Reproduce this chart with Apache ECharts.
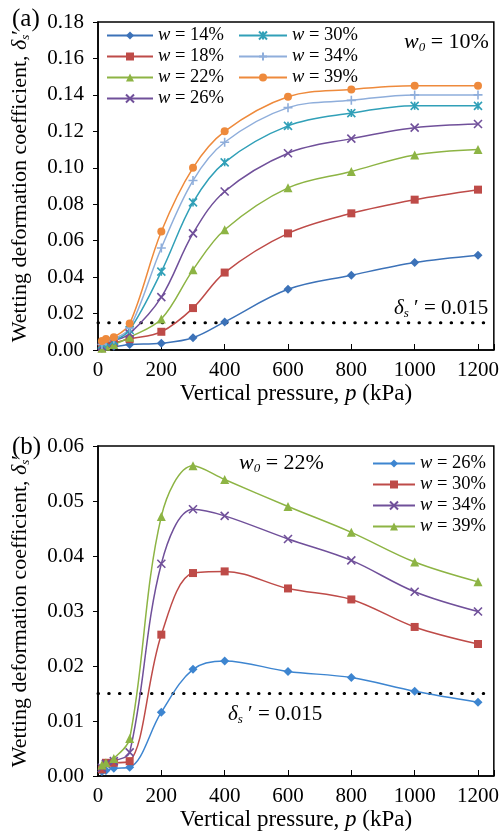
<!DOCTYPE html>
<html>
<head>
<meta charset="utf-8">
<script src="https://cdn.jsdelivr.net/npm/echarts@6/dist/echarts.min.js"></script>
<style>
html, body {margin:0; padding:0; background:#fff;}
#chart {width:502px; height:839px;}
</style>
</head>
<body>
<div id="chart"></div>
<script>
// vertical pressure p (kPa), same for both panels
var pressures = [12.5, 25, 50, 100, 200, 300, 400, 600, 800, 1000, 1200];
var threshold = 0.015;

// (a) w0 = 10%
var a14 = [0.001, 0.002, 0.002, 0.003, 0.0037, 0.0067, 0.0154, 0.0333, 0.041, 0.048, 0.052];
var a18 = [0.001, 0.003, 0.004, 0.006, 0.010, 0.023, 0.0425, 0.064, 0.075, 0.0825, 0.088];
var a22 = [0.001, 0.002, 0.003, 0.007, 0.017, 0.044, 0.066, 0.089, 0.098, 0.107, 0.110];
var a26 = [0.002, 0.004, 0.005, 0.009, 0.029, 0.064, 0.087, 0.108, 0.116, 0.122, 0.124];
var a30 = [0.003, 0.004, 0.005, 0.011, 0.043, 0.081, 0.103, 0.123, 0.130, 0.134, 0.134];
var a34 = [0.003, 0.005, 0.006, 0.012, 0.056, 0.093, 0.114, 0.133, 0.137, 0.140, 0.140];
var a39 = [0.005, 0.006, 0.007, 0.0145, 0.065, 0.100, 0.120, 0.139, 0.143, 0.145, 0.145];

// (b) w0 = 22%
var b26 = [0.0008, 0.0010, 0.0014, 0.0016, 0.0116, 0.0194, 0.0209, 0.0190, 0.0179, 0.0154, 0.0134];
var b30 = [0.0012, 0.0024, 0.0024, 0.0027, 0.0257, 0.0369, 0.0372, 0.0341, 0.0321, 0.0271, 0.0240];
var b34 = [0.0015, 0.0022, 0.0027, 0.0043, 0.0386, 0.0485, 0.0473, 0.0431, 0.0392, 0.0335, 0.0299];
var b39 = [0.0020, 0.0024, 0.0032, 0.0068, 0.0472, 0.0564, 0.0539, 0.0490, 0.0443, 0.0389, 0.0353];

var xTicks = [0, 200, 400, 600, 800, 1000, 1200];

var FONT = 'Liberation Serif';
var C = {
    blue: '#3C72B8', red: '#BE4B48', green: '#8DB444', purple: '#70509A',
    teal: '#31A0B8', light: '#8FAEDB', orange: '#EE8A3C', blue2: '#3D85D0'
};
var X_SYM = 'path://M0,0L10,10M10,0L0,10';
var PLUS_SYM = 'path://M5,0L5,10M0,5L10,5';
var STAR_SYM = 'path://M0,0L10,10M10,0L0,10M5,0L5,10';

function pts(vals) {
    return pressures.map(function (p, i) { return [p, vals[i]]; });
}

function mkSeries(name, vals, color, symbol, size, idx, stroke) {
    var s = {
        name: name,
        type: 'line',
        xAxisIndex: idx,
        yAxisIndex: idx,
        data: pts(vals),
        smooth: 0.35,
        symbol: symbol,
        symbolSize: size,
        showAllSymbol: true,
        lineStyle: {color: color, width: 1.5},
        itemStyle: {color: color},
        z: 3
    };
    if (stroke) {
        s.itemStyle = {color: color, borderColor: color, borderWidth: 1.6};
    }
    return s;
}

function dotted(idx) {
    return {
        type: 'line',
        xAxisIndex: idx,
        yAxisIndex: idx,
        data: [[0, threshold], [1250, threshold]],
        symbol: 'none',
        silent: true,
        lineStyle: {color: '#000', width: 3, type: [0.5, 10.2], cap: 'round'},
        z: 2
    };
}

function richFor(size) {
    return {
        i: {fontFamily: FONT, fontStyle: 'italic', fontSize: size, color: '#000'},
        n: {fontFamily: FONT, fontSize: size, color: '#000'}
    };
}
function legendFmt(name) {
    var pct = name.split('|')[1];
    return '{i|w}{n| = ' + pct + '%}';
}

function xAxis(idx) {
    return {
        type: 'value', gridIndex: idx, min: 0, max: 1250, interval: 200,
        name: 'Vertical pressure, {i|p} (kPa)',
        nameLocation: 'middle', nameGap: 32,
        nameTextStyle: {fontFamily: FONT, fontSize: 23, color: '#000',
            rich: {i: {fontFamily: FONT, fontSize: 23, fontStyle: 'italic', color: '#000'}}},
        axisLine: {lineStyle: {color: '#000', width: 1.5}},
        axisTick: {inside: true, length: 6, lineStyle: {color: '#000'}},
        axisLabel: {fontFamily: FONT, fontSize: 21, color: '#000', margin: 10,
            formatter: function (v) { return xTicks.indexOf(v) >= 0 ? v : ''; }},
        splitLine: {show: false}
    };
}
function yAxis(idx, max, step) {
    return {
        type: 'value', gridIndex: idx, min: 0, max: max, interval: step,
        name: 'Wetting deformation coefficient, {d|δ}{s|s}{p|′}',
        nameLocation: 'middle', nameGap: 66,
        nameTextStyle: {fontFamily: FONT, fontSize: 22, color: '#000',
            rich: {
                d: {fontFamily: FONT, fontSize: 22, fontStyle: 'italic', color: '#000'},
                s: {fontFamily: FONT, fontSize: 13, fontStyle: 'italic', color: '#000', padding: [11, 0, 0, 0]},
                p: {fontFamily: FONT, fontSize: 22, color: '#000'}
            }},
        axisLine: {lineStyle: {color: '#000', width: 1.5}},
        axisTick: {length: 5, lineStyle: {color: '#000'}},
        axisLabel: {fontFamily: FONT, fontSize: 21, color: '#000', margin: 14,
            formatter: function (v) { return v.toFixed(2); }},
        splitLine: {show: false}
    };
}

function note(left, top, str, size) {
    return {
        type: 'text', left: left, top: top,
        style: {
            text: str, fill: '#000', font: size + 'px "' + FONT + '"',
            rich: {
                i: {fontFamily: FONT, fontStyle: 'italic', fontSize: size, fill: '#000'},
                n: {fontFamily: FONT, fontSize: size, fill: '#000'},
                sub: {fontFamily: FONT, fontStyle: 'italic', fontSize: Math.round(size * 0.6), fill: '#000', padding: [11, 0, 0, 0]}
            }
        }
    };
}

var myChart = echarts.init(document.getElementById('chart'));
var option = {
    animation: false,
    backgroundColor: '#fff',
    grid: [
        {left: 98, top: 22, width: 397, height: 328, show: true, borderColor: '#000', borderWidth: 1.5},
        {left: 98, top: 446, width: 397, height: 330, show: true, borderColor: '#000', borderWidth: 1.5}
    ],
    xAxis: [xAxis(0), xAxis(1)],
    yAxis: [yAxis(0, 0.18, 0.02), yAxis(1, 0.06, 0.01)],
    legend: [
        {orient: 'vertical', left: 101, top: 21, itemWidth: 46, itemHeight: 10, itemGap: 2,
            formatter: legendFmt, textStyle: {rich: richFor(18.5)},
            data: ['a|14', 'a|18', 'a|22', 'a|26']},
        {orient: 'vertical', left: 233, top: 21, itemWidth: 48, itemHeight: 10, itemGap: 2,
            formatter: legendFmt, textStyle: {rich: richFor(18.5)},
            data: ['a|30', 'a|34', 'a|39']},
        {orient: 'vertical', left: 367, top: 449, itemWidth: 42, itemHeight: 10, itemGap: 2,
            formatter: legendFmt, textStyle: {rich: richFor(18.5)},
            data: ['b|26', 'b|30', 'b|34', 'b|39']}
    ],
    graphic: [
        note(12, 7, '{n|(a)}', 25),
        note(12, 435, '{n|(b)}', 25),
        note(404, 31, '{i|w}{sub|0}{n| = 10%}', 22),
        note(239, 452, '{i|w}{sub|0}{n| = 22%}', 22),
        note(394, 298, '{i|δ}{sub|s}{n| ′ = 0.015}', 21),
        note(228, 704, '{i|δ}{sub|s}{n| ′ = 0.015}', 21)
    ],
    series: [
        dotted(0), dotted(1),
        mkSeries('a|14', a14, C.blue, 'diamond', 9, 0),
        mkSeries('a|18', a18, C.red, 'rect', 8, 0),
        mkSeries('a|22', a22, C.green, 'triangle', 9, 0),
        mkSeries('a|26', a26, C.purple, X_SYM, 8, 0, true),
        mkSeries('a|30', a30, C.teal, STAR_SYM, 8, 0, true),
        mkSeries('a|34', a34, C.light, PLUS_SYM, 9, 0, true),
        mkSeries('a|39', a39, C.orange, 'circle', 8, 0),
        mkSeries('b|26', b26, C.blue2, 'diamond', 9, 1),
        mkSeries('b|30', b30, C.red, 'rect', 8, 1),
        mkSeries('b|34', b34, C.purple, X_SYM, 8, 1, true),
        mkSeries('b|39', b39, C.green, 'triangle', 9, 1)
    ]
};
myChart.setOption(option);
</script>
</body>
</html>
